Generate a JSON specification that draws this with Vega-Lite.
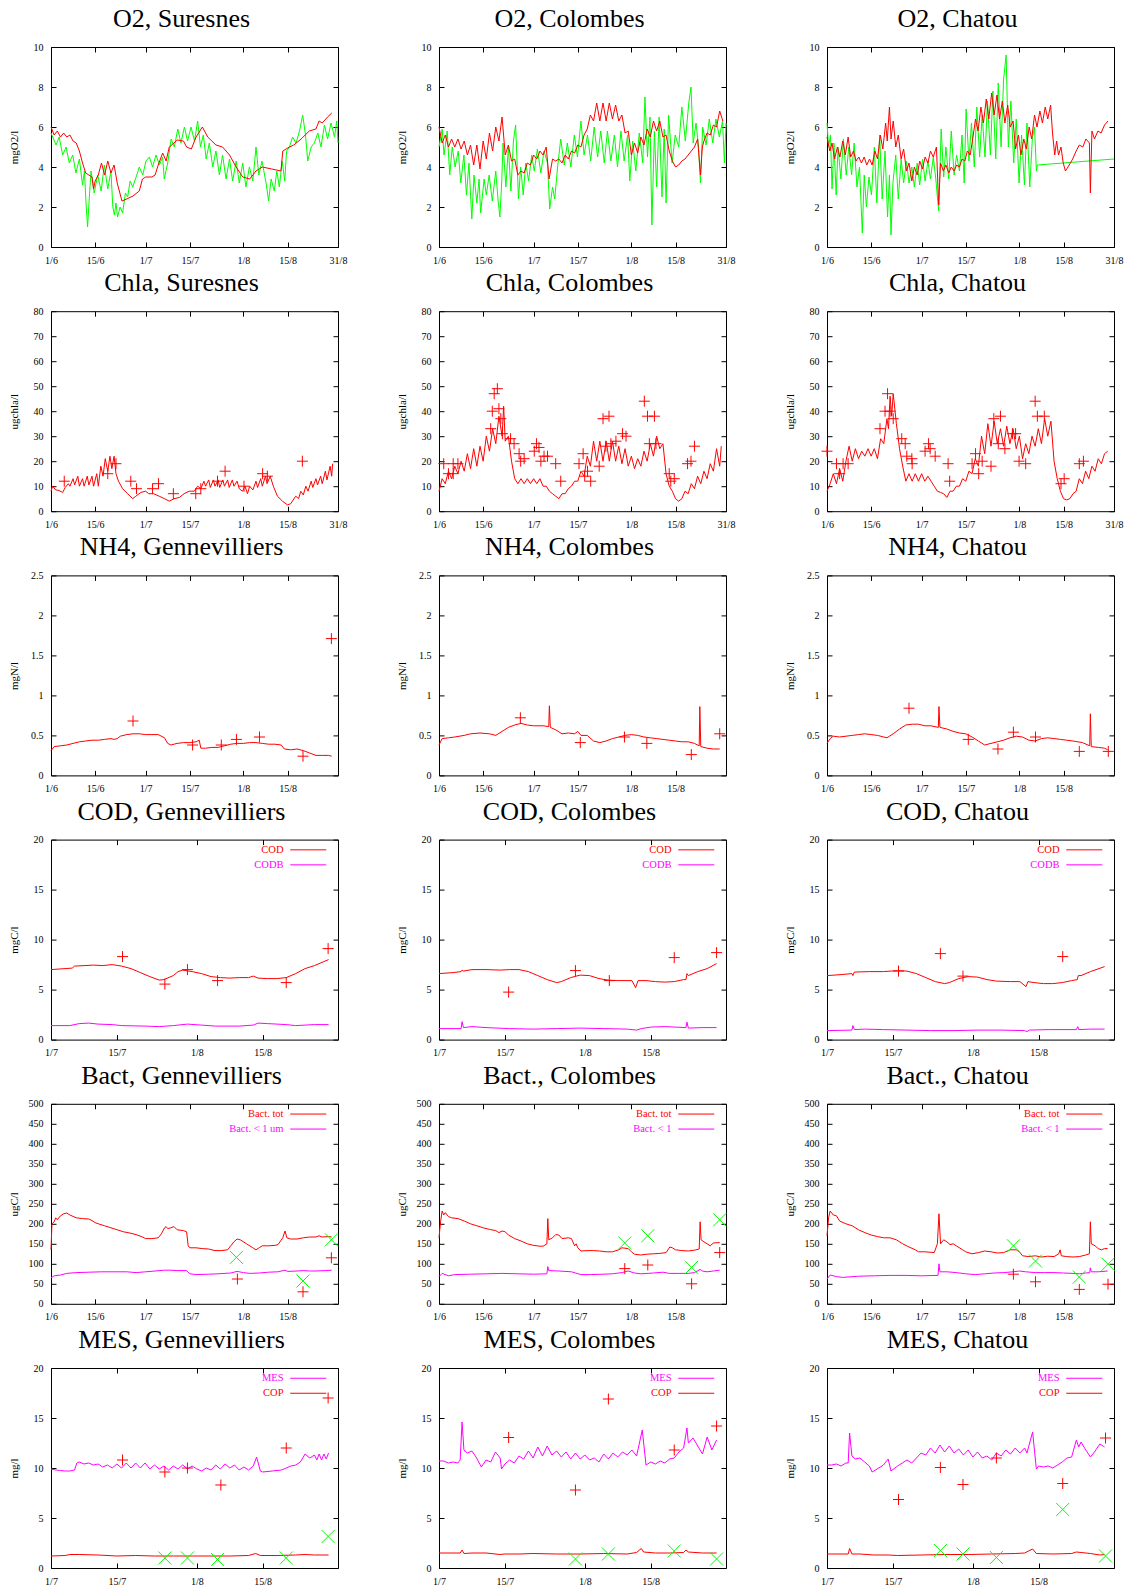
{
"$schema":"https://vega.github.io/schema/vega-lite/v6.json",
"background":"white",
"padding":{"left":7,"top":5,"right":5,"bottom":0},
"config":{
 "font":"Liberation Serif",
 "view":{"stroke":"#000000","strokeWidth":1},
 "axis":{"domain":false,"grid":false,"ticks":true,"tickColor":"#000000","tickSize":-5,"tickWidth":1,"labelFont":"Liberation Serif","labelFontSize":10,"labelColor":"#000000","labelPadding":10,"labelFlush":false,"labelOverlap":false,"titleFont":"Liberation Serif","titleFontSize":11,"titleFontWeight":"normal","titleColor":"#000000"},
 "axisBottom":{"labelPadding":13},
 "axisLeft":{"labelPadding":13,"titleX":-37,"titleY":100,"titleAngle":270,"titleAlign":"center","titleBaseline":"middle"},
 "title":{"font":"Liberation Serif","fontSize":26,"fontWeight":"normal","color":"#000000","anchor":"middle","frame":"group","dx":-13,"baseline":"alphabetic","offset":10},
 "legend":{"orient":"top-right","offset":5,"padding":0,"symbolType":"M-6,0H6M7.3,0H7.3","symbolSize":36,"symbolStrokeWidth":1.5,"labelFont":"Liberation Serif","labelFontSize":10.5,"labelAlign":"right","labelOffset":-30,"rowPadding":4,"labelLimit":0},
 "line":{"strokeWidth":1}
},
"columns":3,
"spacing":{"row":64.2,"column":101},
"bounds":"flush",
"resolve":{"scale":{"color":"independent"}},
"datasets":{
"o2s_g":[{"d":0,"v":5.7},{"d":1.6,"v":5.1},{"d":2.6,"v":5.5},{"d":3.7,"v":4.6},{"d":4.8,"v":5.0},{"d":5.8,"v":4.2},{"d":6.9,"v":4.6},{"d":7.9,"v":3.7},{"d":9,"v":4.4},{"d":10,"v":3.1},{"d":10.6,"v":3.8},{"d":11.1,"v":2.2},{"d":11.6,"v":1.0},{"d":12.2,"v":2.6},{"d":12.7,"v":3.8},{"d":13.7,"v":2.7},{"d":14.8,"v":3.6},{"d":15.9,"v":2.8},{"d":16.9,"v":4.1},{"d":18,"v":2.9},{"d":19,"v":3.8},{"d":19.6,"v":2.0},{"d":20.1,"v":1.6},{"d":20.6,"v":2.2},{"d":21.1,"v":1.5},{"d":21.9,"v":2.0},{"d":22.7,"v":1.7},{"d":23.6,"v":2.7},{"d":24.3,"v":2.5},{"d":25.1,"v":3.3},{"d":25.9,"v":3.0},{"d":27,"v":3.5},{"d":28,"v":4.0},{"d":29.1,"v":3.6},{"d":30.1,"v":4.3},{"d":31.2,"v":4.5},{"d":32.2,"v":4.0},{"d":33.3,"v":4.6},{"d":34.4,"v":4.1},{"d":35.4,"v":4.5},{"d":35.9,"v":3.4},{"d":37,"v":4.2},{"d":38.1,"v":5.4},{"d":39.1,"v":5.0},{"d":40.2,"v":5.9},{"d":41.2,"v":5.2},{"d":42.3,"v":6.0},{"d":43.3,"v":5.3},{"d":44.4,"v":6.0},{"d":45.5,"v":5.3},{"d":46.5,"v":6.3},{"d":47.4,"v":5.0},{"d":48.3,"v":5.6},{"d":49.2,"v":4.4},{"d":50.2,"v":5.2},{"d":51.3,"v":4.0},{"d":52.3,"v":4.8},{"d":53.4,"v":3.6},{"d":54.4,"v":4.6},{"d":55.5,"v":3.4},{"d":56.6,"v":4.4},{"d":57.6,"v":3.3},{"d":58.7,"v":4.3},{"d":59.7,"v":3.2},{"d":60.8,"v":4.2},{"d":61.8,"v":3.0},{"d":62.9,"v":4.0},{"d":64,"v":3.3},{"d":65,"v":5.0},{"d":65.9,"v":3.6},{"d":66.9,"v":4.3},{"d":68.2,"v":3.2},{"d":69,"v":2.3},{"d":69.8,"v":3.4},{"d":70.8,"v":2.8},{"d":71.6,"v":3.8},{"d":72.4,"v":3.0},{"d":73.3,"v":4.3},{"d":74.1,"v":3.3},{"d":74.7,"v":4.8},{"d":75.6,"v":5.0},{"d":76.6,"v":5.5},{"d":77.7,"v":5.2},{"d":78.8,"v":5.8},{"d":79.8,"v":6.6},{"d":80.7,"v":5.6},{"d":81.4,"v":4.3},{"d":82.5,"v":5.0},{"d":83.5,"v":5.2},{"d":84.6,"v":5.7},{"d":85.6,"v":5.0},{"d":86.7,"v":6.1},{"d":87.7,"v":5.4},{"d":88.8,"v":6.2},{"d":89.9,"v":5.5},{"d":90.6,"v":6.3},{"d":91,"v":5.2}],
"o2s_r":[{"d":0,"v":6.0},{"d":1,"v":5.6},{"d":2,"v":5.8},{"d":3,"v":5.5},{"d":4,"v":5.7},{"d":5,"v":5.5},{"d":6,"v":5.6},{"d":7,"v":5.3},{"d":8,"v":5.2},{"d":9,"v":4.8},{"d":10,"v":4.2},{"d":11,"v":3.7},{"d":12,"v":3.6},{"d":13,"v":3.5},{"d":13.5,"v":2.9},{"d":14,"v":3.3},{"d":15,"v":3.6},{"d":16,"v":4.2},{"d":17,"v":3.6},{"d":18,"v":4.3},{"d":19,"v":3.7},{"d":20,"v":4.1},{"d":21,"v":3.2},{"d":22,"v":2.6},{"d":22.5,"v":2.3},{"d":24,"v":2.4},{"d":26,"v":2.55},{"d":28,"v":2.8},{"d":29,"v":3.4},{"d":30,"v":3.5},{"d":32,"v":3.5},{"d":33,"v":3.6},{"d":34,"v":4.1},{"d":35.4,"v":4.7},{"d":36.5,"v":4.3},{"d":37.5,"v":5.0},{"d":39,"v":5.2},{"d":40,"v":5.35},{"d":42,"v":5.3},{"d":43,"v":5.0},{"d":44.5,"v":4.9},{"d":46,"v":5.5},{"d":48,"v":6.0},{"d":49.7,"v":5.5},{"d":51,"v":5.3},{"d":52.3,"v":5.1},{"d":54.4,"v":5.0},{"d":56.6,"v":4.6},{"d":58.7,"v":4.0},{"d":60.8,"v":3.5},{"d":63,"v":3.4},{"d":65,"v":3.8},{"d":67,"v":4.0},{"d":70,"v":3.9},{"d":72.9,"v":3.8},{"d":73.5,"v":4.8},{"d":75.6,"v":5.0},{"d":77,"v":5.1},{"d":79.3,"v":5.4},{"d":81.9,"v":5.8},{"d":84,"v":5.9},{"d":85,"v":6.3},{"d":86,"v":6.2},{"d":87.7,"v":6.5},{"d":89,"v":6.7}],
"o2c_g":[{"d":0,"v":5.0},{"d":1,"v":5.9},{"d":1.6,"v":4.6},{"d":2.6,"v":5.8},{"d":3.4,"v":3.6},{"d":4.2,"v":5.0},{"d":5.1,"v":4.0},{"d":6.1,"v":4.8},{"d":6.9,"v":3.2},{"d":7.9,"v":4.6},{"d":8.7,"v":2.6},{"d":9.5,"v":4.2},{"d":10.4,"v":1.4},{"d":11.1,"v":3.6},{"d":12,"v":2.2},{"d":12.7,"v":3.4},{"d":13.2,"v":1.7},{"d":14.3,"v":3.4},{"d":15,"v":2.6},{"d":15.9,"v":3.6},{"d":16.9,"v":2.3},{"d":18,"v":3.8},{"d":18.7,"v":2.4},{"d":19.3,"v":1.5},{"d":19.9,"v":3.3},{"d":20.3,"v":5.2},{"d":21.2,"v":3.0},{"d":22,"v":5.0},{"d":22.8,"v":2.8},{"d":23.6,"v":5.3},{"d":24.3,"v":6.1},{"d":25.2,"v":2.4},{"d":25.9,"v":4.0},{"d":26.7,"v":2.6},{"d":27.5,"v":4.2},{"d":28.4,"v":3.3},{"d":29.4,"v":4.6},{"d":30.2,"v":3.8},{"d":31.2,"v":4.9},{"d":32.3,"v":3.7},{"d":33.3,"v":4.8},{"d":34.4,"v":4.2},{"d":35.1,"v":1.9},{"d":36,"v":3.0},{"d":36.7,"v":2.4},{"d":37.6,"v":4.0},{"d":38.6,"v":5.4},{"d":39.7,"v":4.1},{"d":40.7,"v":5.2},{"d":41.8,"v":4.0},{"d":42.9,"v":5.6},{"d":43.9,"v":4.5},{"d":45,"v":6.3},{"d":46,"v":4.6},{"d":47.1,"v":5.6},{"d":48.1,"v":4.3},{"d":49.2,"v":6.0},{"d":50.3,"v":4.5},{"d":51.3,"v":5.8},{"d":52.4,"v":4.2},{"d":53.4,"v":5.8},{"d":54.5,"v":4.3},{"d":55.6,"v":5.6},{"d":56.6,"v":4.0},{"d":57.7,"v":5.8},{"d":58.7,"v":4.3},{"d":59.8,"v":5.6},{"d":60.5,"v":3.3},{"d":61.4,"v":5.3},{"d":62.4,"v":3.8},{"d":63.5,"v":5.7},{"d":64.6,"v":4.2},{"d":65.3,"v":7.5},{"d":66.1,"v":4.5},{"d":66.9,"v":6.5},{"d":67.5,"v":1.1},{"d":68.3,"v":5.8},{"d":69,"v":3.0},{"d":69.8,"v":6.5},{"d":70.7,"v":2.5},{"d":71.4,"v":5.9},{"d":72,"v":2.2},{"d":72.8,"v":6.6},{"d":73.9,"v":4.2},{"d":74.9,"v":5.6},{"d":76,"v":5.0},{"d":77,"v":7.0},{"d":78.1,"v":5.3},{"d":79.2,"v":7.2},{"d":79.9,"v":8.0},{"d":80.6,"v":5.2},{"d":81.5,"v":6.2},{"d":82.3,"v":5.0},{"d":82.9,"v":3.2},{"d":83.6,"v":6.0},{"d":84.7,"v":5.1},{"d":85.7,"v":6.4},{"d":86.8,"v":5.2},{"d":87.8,"v":6.4},{"d":88.9,"v":5.5},{"d":89.9,"v":6.3},{"d":90.5,"v":4.2},{"d":91,"v":6.2}],
"o2c_r":[{"d":0,"v":6.0},{"d":1,"v":5.2},{"d":2,"v":5.6},{"d":3,"v":5.0},{"d":4,"v":5.4},{"d":5,"v":5.0},{"d":6,"v":5.4},{"d":7,"v":4.9},{"d":8,"v":5.3},{"d":9,"v":4.6},{"d":10,"v":5.1},{"d":11,"v":4.1},{"d":12,"v":5.1},{"d":13,"v":3.9},{"d":14,"v":5.3},{"d":15,"v":4.4},{"d":16,"v":5.7},{"d":17,"v":4.8},{"d":18,"v":6.0},{"d":19,"v":5.3},{"d":20,"v":6.5},{"d":21,"v":4.6},{"d":22,"v":5.1},{"d":23,"v":4.3},{"d":24,"v":4.4},{"d":25,"v":3.6},{"d":26,"v":3.8},{"d":27,"v":3.7},{"d":28,"v":4.2},{"d":29,"v":4.1},{"d":30,"v":4.6},{"d":31,"v":4.4},{"d":32,"v":4.8},{"d":33,"v":4.6},{"d":34,"v":5.0},{"d":34.9,"v":3.4},{"d":36,"v":4.4},{"d":37,"v":4.3},{"d":38,"v":4.4},{"d":39,"v":4.2},{"d":40,"v":4.6},{"d":41,"v":4.4},{"d":42,"v":4.8},{"d":43,"v":4.7},{"d":44,"v":5.1},{"d":45,"v":5.0},{"d":46,"v":5.6},{"d":47,"v":5.9},{"d":48,"v":6.6},{"d":49,"v":6.3},{"d":50,"v":7.2},{"d":51,"v":6.3},{"d":52,"v":7.2},{"d":53,"v":6.3},{"d":54,"v":7.2},{"d":55,"v":6.4},{"d":56,"v":7.1},{"d":57,"v":6.3},{"d":58,"v":6.6},{"d":59,"v":5.7},{"d":60,"v":5.8},{"d":61,"v":4.6},{"d":62,"v":5.2},{"d":63,"v":4.7},{"d":64,"v":5.5},{"d":65,"v":5.1},{"d":66,"v":5.9},{"d":67,"v":5.5},{"d":68,"v":6.3},{"d":69,"v":5.8},{"d":70,"v":6.3},{"d":71,"v":5.5},{"d":72,"v":5.6},{"d":73,"v":4.8},{"d":74,"v":4.3},{"d":75,"v":4.0},{"d":76,"v":4.1},{"d":77,"v":4.3},{"d":78,"v":4.4},{"d":79,"v":4.6},{"d":80,"v":4.8},{"d":81,"v":5.0},{"d":82,"v":5.4},{"d":82.9,"v":3.6},{"d":83.5,"v":5.0},{"d":84,"v":5.3},{"d":85,"v":5.7},{"d":86,"v":5.6},{"d":87,"v":6.1},{"d":88,"v":6.0},{"d":89,"v":6.8},{"d":90,"v":6.3}],
"o2h_g":[{"d":0,"v":6.2},{"d":0.5,"v":5.0},{"d":1.1,"v":5.6},{"d":1.6,"v":2.9},{"d":2.2,"v":5.2},{"d":2.9,"v":2.6},{"d":3.5,"v":5.0},{"d":4.4,"v":3.4},{"d":5.2,"v":5.4},{"d":6.1,"v":3.6},{"d":6.9,"v":5.0},{"d":7.8,"v":3.6},{"d":8.6,"v":5.2},{"d":9.5,"v":3.0},{"d":10.3,"v":4.0},{"d":11.2,"v":0.7},{"d":11.8,"v":3.6},{"d":12.5,"v":2.0},{"d":13.3,"v":3.5},{"d":14.1,"v":2.6},{"d":15,"v":5.0},{"d":15.8,"v":2.2},{"d":16.7,"v":5.6},{"d":17.5,"v":2.4},{"d":18.4,"v":4.8},{"d":19.2,"v":1.5},{"d":19.8,"v":3.6},{"d":20.3,"v":0.6},{"d":20.9,"v":3.2},{"d":21.8,"v":4.6},{"d":22.6,"v":2.4},{"d":23.5,"v":4.4},{"d":24.3,"v":3.2},{"d":25.2,"v":4.3},{"d":26,"v":3.2},{"d":26.9,"v":4.0},{"d":27.7,"v":3.0},{"d":28.6,"v":4.2},{"d":29.4,"v":3.1},{"d":30.3,"v":4.4},{"d":31.1,"v":3.3},{"d":32,"v":4.3},{"d":32.8,"v":3.4},{"d":33.7,"v":4.5},{"d":34.5,"v":3.4},{"d":35.4,"v":1.8},{"d":36.2,"v":5.9},{"d":37,"v":3.5},{"d":37.7,"v":5.0},{"d":38.6,"v":3.4},{"d":39.4,"v":5.8},{"d":40.3,"v":3.6},{"d":41.1,"v":4.6},{"d":42,"v":3.8},{"d":42.8,"v":5.6},{"d":43.5,"v":3.2},{"d":44.1,"v":6.9},{"d":45,"v":4.3},{"d":45.8,"v":6.2},{"d":46.7,"v":4.0},{"d":47.5,"v":7.0},{"d":48.4,"v":4.5},{"d":49.2,"v":6.6},{"d":50.1,"v":4.5},{"d":50.9,"v":7.3},{"d":51.8,"v":4.6},{"d":52.6,"v":7.8},{"d":53.5,"v":4.4},{"d":54.3,"v":8.2},{"d":55.2,"v":5.0},{"d":56,"v":8.4},{"d":56.8,"v":9.6},{"d":57.5,"v":5.0},{"d":58.3,"v":7.3},{"d":59.2,"v":4.2},{"d":60,"v":6.4},{"d":60.9,"v":3.2},{"d":61.7,"v":5.6},{"d":62.6,"v":3.1},{"d":63.4,"v":6.2},{"d":64.3,"v":3.0},{"d":65.1,"v":5.4},{"d":65.8,"v":6.0},{"d":66.4,"v":3.8},{"d":66.7,"v":4.1},{"d":91,"v":4.4}],
"o2h_r":[{"d":0,"v":5.5},{"d":0.9,"v":4.8},{"d":1.6,"v":5.2},{"d":2.4,"v":4.4},{"d":3.3,"v":5.0},{"d":4.1,"v":4.5},{"d":5,"v":5.3},{"d":5.8,"v":4.6},{"d":6.7,"v":5.5},{"d":7.5,"v":4.5},{"d":8.4,"v":4.8},{"d":9.2,"v":4.3},{"d":10.1,"v":4.5},{"d":10.9,"v":4.2},{"d":11.8,"v":4.5},{"d":12.6,"v":4.1},{"d":13.5,"v":4.4},{"d":14.3,"v":4.1},{"d":15.2,"v":4.8},{"d":16,"v":4.4},{"d":16.9,"v":5.6},{"d":17.7,"v":4.9},{"d":18.6,"v":6.2},{"d":19.1,"v":5.3},{"d":19.8,"v":7.0},{"d":20.3,"v":5.4},{"d":21,"v":6.3},{"d":21.8,"v":5.0},{"d":22.6,"v":5.6},{"d":23.5,"v":4.4},{"d":24.3,"v":4.9},{"d":25.2,"v":3.8},{"d":26,"v":4.2},{"d":26.9,"v":3.3},{"d":27.7,"v":4.0},{"d":28.6,"v":3.6},{"d":29.4,"v":4.3},{"d":30.3,"v":3.9},{"d":31.1,"v":4.5},{"d":32,"v":4.2},{"d":32.8,"v":4.8},{"d":33.7,"v":4.5},{"d":34.7,"v":5.0},{"d":35.4,"v":2.1},{"d":36,"v":4.2},{"d":36.9,"v":3.8},{"d":37.7,"v":4.1},{"d":38.6,"v":3.7},{"d":39.4,"v":4.0},{"d":40.3,"v":3.8},{"d":41.1,"v":4.1},{"d":42,"v":4.0},{"d":42.8,"v":4.4},{"d":43.7,"v":4.3},{"d":44.5,"v":4.8},{"d":45.4,"v":4.6},{"d":46.2,"v":5.4},{"d":47.1,"v":6.4},{"d":47.9,"v":5.8},{"d":48.8,"v":7.0},{"d":49.6,"v":6.2},{"d":50.5,"v":7.4},{"d":51.3,"v":6.4},{"d":52.2,"v":7.7},{"d":53,"v":6.6},{"d":53.9,"v":7.6},{"d":54.7,"v":6.4},{"d":55.6,"v":7.3},{"d":56.4,"v":6.2},{"d":57.3,"v":7.1},{"d":58.1,"v":6.0},{"d":59,"v":6.3},{"d":59.8,"v":4.9},{"d":60.7,"v":5.6},{"d":61.5,"v":4.6},{"d":62.4,"v":5.4},{"d":63.2,"v":4.9},{"d":64.1,"v":6.0},{"d":64.9,"v":5.4},{"d":65.8,"v":6.6},{"d":66.6,"v":6.0},{"d":67.5,"v":6.8},{"d":68.3,"v":6.2},{"d":69.2,"v":7.0},{"d":70,"v":6.4},{"d":70.9,"v":7.1},{"d":71.5,"v":5.7},{"d":72.2,"v":4.6},{"d":72.8,"v":5.3},{"d":73.4,"v":4.6},{"d":74.2,"v":5.0},{"d":74.9,"v":4.2},{"d":75.6,"v":3.8},{"d":76.8,"v":4.1},{"d":77.9,"v":4.4},{"d":79,"v":4.8},{"d":80,"v":5.1},{"d":81.1,"v":5.0},{"d":82.1,"v":5.4},{"d":83.2,"v":5.2},{"d":83.5,"v":2.7},{"d":84,"v":5.8},{"d":84.8,"v":5.4},{"d":85.9,"v":5.8},{"d":86.9,"v":5.7},{"d":88,"v":6.1},{"d":89.1,"v":6.3}],
"chs":[{"d":0,"v":8},{"d":0.5,"v":10},{"d":1.5,"v":8.5},{"d":2.5,"v":8.3},{"d":3.7,"v":7.5},{"d":4.5,"v":9.5},{"d":5.5,"v":11},{"d":6,"v":10},{"d":7,"v":13},{"d":7.5,"v":10.5},{"d":8.5,"v":14},{"d":9,"v":10},{"d":10,"v":13},{"d":10.5,"v":10},{"d":11.5,"v":14},{"d":12,"v":10.5},{"d":13,"v":14},{"d":13.5,"v":10},{"d":14.5,"v":15},{"d":15,"v":10},{"d":15.8,"v":18},{"d":16.5,"v":14},{"d":17.2,"v":21},{"d":18,"v":16},{"d":18.7,"v":22},{"d":19.3,"v":17},{"d":20,"v":22},{"d":20.6,"v":15},{"d":21.4,"v":12},{"d":22.7,"v":9},{"d":24.3,"v":7},{"d":25.9,"v":5},{"d":26.9,"v":6},{"d":28.5,"v":7.5},{"d":30,"v":8},{"d":31,"v":7},{"d":32.5,"v":7},{"d":34.3,"v":6},{"d":36,"v":5},{"d":37.5,"v":4},{"d":39,"v":5},{"d":40.7,"v":5.5},{"d":42.2,"v":7},{"d":43.8,"v":8},{"d":45.4,"v":8},{"d":46.5,"v":10},{"d":47.5,"v":9},{"d":48.5,"v":12},{"d":49,"v":10},{"d":50,"v":12.5},{"d":50.5,"v":9.5},{"d":51.5,"v":12.5},{"d":52,"v":10},{"d":53,"v":12.5},{"d":53.5,"v":9.5},{"d":54.5,"v":12.5},{"d":55,"v":10},{"d":56,"v":12.5},{"d":56.5,"v":9.5},{"d":57.5,"v":12.5},{"d":58,"v":10},{"d":59,"v":12},{"d":59.7,"v":9},{"d":60.7,"v":8},{"d":61.5,"v":10},{"d":62.3,"v":7},{"d":63,"v":10},{"d":64,"v":8.5},{"d":65,"v":12},{"d":65.5,"v":9.5},{"d":66.5,"v":13},{"d":67,"v":10},{"d":68,"v":14},{"d":68.5,"v":11},{"d":69.5,"v":14},{"d":70.5,"v":10},{"d":71.8,"v":6},{"d":73.4,"v":4},{"d":75,"v":2.5},{"d":76,"v":3},{"d":77.6,"v":6},{"d":78.5,"v":5},{"d":79.2,"v":8},{"d":80,"v":6.5},{"d":80.8,"v":10},{"d":81.5,"v":8},{"d":82.5,"v":12},{"d":83,"v":9.5},{"d":84,"v":13},{"d":84.5,"v":10.5},{"d":85.5,"v":14},{"d":86,"v":11},{"d":87,"v":16},{"d":87.5,"v":12.5},{"d":88.5,"v":18},{"d":89,"v":14},{"d":89.3,"v":19}],
"chs_p":[{"d":4.2,"v":12},{"d":18,"v":15},{"d":20.6,"v":19},{"d":25.3,"v":12},{"d":27.1,"v":9},{"d":32.2,"v":9},{"d":34.1,"v":11},{"d":38.8,"v":7},{"d":45.9,"v":7},{"d":47.5,"v":9},{"d":52.8,"v":12},{"d":55.2,"v":16},{"d":61.2,"v":10},{"d":67.1,"v":15},{"d":68.6,"v":14},{"d":79.7,"v":20}],
"chc":[{"d":0,"v":8},{"d":1,"v":13},{"d":2,"v":11},{"d":3,"v":16},{"d":4,"v":13},{"d":5,"v":18},{"d":6,"v":15},{"d":7,"v":20},{"d":8,"v":16},{"d":9,"v":23},{"d":10,"v":17},{"d":11,"v":25},{"d":12,"v":18},{"d":13,"v":26},{"d":14,"v":20},{"d":15,"v":30},{"d":16,"v":24},{"d":17,"v":33},{"d":18,"v":27},{"d":19,"v":38},{"d":20,"v":30},{"d":20.5,"v":42},{"d":21,"v":28},{"d":22,"v":30},{"d":23,"v":20},{"d":24,"v":13},{"d":25,"v":11},{"d":26,"v":13},{"d":27,"v":11},{"d":28,"v":13},{"d":29,"v":11},{"d":30,"v":13},{"d":31,"v":11},{"d":32,"v":13},{"d":33,"v":10},{"d":34,"v":10},{"d":35,"v":8},{"d":36,"v":7},{"d":37,"v":6},{"d":38,"v":5},{"d":39,"v":7},{"d":40,"v":7},{"d":41,"v":9},{"d":42,"v":10},{"d":43,"v":12},{"d":44,"v":12},{"d":45,"v":16},{"d":46,"v":14},{"d":47,"v":22},{"d":48,"v":18},{"d":49,"v":28},{"d":50,"v":20},{"d":51,"v":28},{"d":52,"v":20},{"d":53,"v":28},{"d":54,"v":20},{"d":55,"v":28},{"d":56,"v":20},{"d":57,"v":26},{"d":58,"v":19},{"d":59,"v":25},{"d":60,"v":18},{"d":61,"v":22},{"d":62,"v":17},{"d":63,"v":21},{"d":64,"v":18},{"d":65,"v":24},{"d":66,"v":20},{"d":67,"v":27},{"d":68,"v":22},{"d":69,"v":30},{"d":70,"v":25},{"d":71,"v":27},{"d":72,"v":15},{"d":73,"v":10},{"d":74,"v":8},{"d":75,"v":5},{"d":76,"v":4},{"d":77,"v":5},{"d":78,"v":8},{"d":79,"v":7},{"d":80,"v":11},{"d":81,"v":9},{"d":82,"v":14},{"d":83,"v":11},{"d":84,"v":16},{"d":85,"v":13},{"d":86,"v":19},{"d":87,"v":16},{"d":88,"v":25},{"d":89,"v":18},{"d":89.5,"v":26}],
"chc_p":[{"d":1.5,"v":19},{"d":3,"v":15},{"d":4.5,"v":15},{"d":4.5,"v":19},{"d":6,"v":19},{"d":16.4,"v":33},{"d":16.9,"v":40},{"d":17.5,"v":47},{"d":18.5,"v":49},{"d":19,"v":41},{"d":19.6,"v":37},{"d":20.1,"v":31},{"d":22.7,"v":29},{"d":23.8,"v":27},{"d":25.4,"v":23},{"d":25.9,"v":20},{"d":27,"v":21},{"d":30.2,"v":24},{"d":30.9,"v":27},{"d":31.7,"v":25.5},{"d":32.3,"v":20},{"d":33.3,"v":22},{"d":34.4,"v":22},{"d":37,"v":19},{"d":38.6,"v":12},{"d":44.4,"v":19},{"d":45.7,"v":23},{"d":46.2,"v":14},{"d":47.1,"v":16},{"d":48.1,"v":12},{"d":50.8,"v":18},{"d":52,"v":37},{"d":53.9,"v":38},{"d":52.9,"v":26},{"d":54.5,"v":27},{"d":56.1,"v":28},{"d":58.2,"v":31},{"d":59.3,"v":30},{"d":65.1,"v":44},{"d":66.1,"v":38},{"d":68.3,"v":38},{"d":66.7,"v":27},{"d":68.8,"v":27},{"d":73,"v":15},{"d":73.5,"v":12},{"d":74.6,"v":13},{"d":78.8,"v":19},{"d":79.9,"v":20},{"d":81,"v":26}],
"chh":[{"d":0,"v":8},{"d":1,"v":11},{"d":2,"v":15},{"d":3,"v":11},{"d":4,"v":17},{"d":5,"v":12},{"d":6,"v":20},{"d":7,"v":26},{"d":8,"v":20},{"d":9,"v":25},{"d":10,"v":21},{"d":11,"v":24},{"d":12,"v":22},{"d":13,"v":25},{"d":14,"v":22},{"d":15,"v":25},{"d":16,"v":21},{"d":17,"v":29},{"d":18,"v":27},{"d":19,"v":37},{"d":19.5,"v":33},{"d":20,"v":46},{"d":20.5,"v":38},{"d":21,"v":47},{"d":22,"v":35},{"d":23,"v":25},{"d":24,"v":18},{"d":25,"v":12},{"d":26,"v":15},{"d":27,"v":12},{"d":28,"v":15},{"d":29,"v":12},{"d":30,"v":15},{"d":31,"v":12},{"d":32,"v":14},{"d":33,"v":12},{"d":34,"v":10},{"d":35,"v":8},{"d":36,"v":7.5},{"d":37,"v":7},{"d":38,"v":5.5},{"d":39,"v":8},{"d":40,"v":8},{"d":41,"v":10},{"d":42,"v":10},{"d":43,"v":13},{"d":44,"v":12},{"d":45,"v":16},{"d":46,"v":15},{"d":47,"v":21},{"d":48,"v":18},{"d":49,"v":30},{"d":50,"v":23},{"d":51,"v":35},{"d":52,"v":26},{"d":53,"v":36},{"d":54,"v":27},{"d":55,"v":33},{"d":56,"v":26},{"d":57,"v":34},{"d":58,"v":27},{"d":59,"v":33},{"d":60,"v":25},{"d":61,"v":30},{"d":62,"v":21},{"d":63,"v":27},{"d":64,"v":23},{"d":65,"v":30},{"d":66,"v":26},{"d":67,"v":33},{"d":68,"v":27},{"d":69,"v":37},{"d":70,"v":30},{"d":71,"v":36},{"d":72,"v":20},{"d":73,"v":13},{"d":74,"v":8},{"d":75,"v":5},{"d":76,"v":4.5},{"d":77,"v":5},{"d":78,"v":7},{"d":79,"v":8},{"d":80,"v":13},{"d":81,"v":11},{"d":82,"v":16},{"d":83,"v":13},{"d":84,"v":18},{"d":85,"v":16},{"d":86,"v":21},{"d":87,"v":19},{"d":88,"v":23},{"d":89,"v":24}],
"chh_p":[{"d":0,"v":24},{"d":3,"v":19},{"d":4,"v":15},{"d":5.1,"v":19},{"d":6.7,"v":19},{"d":16.8,"v":33},{"d":18.4,"v":40},{"d":19.2,"v":47},{"d":20,"v":40},{"d":21,"v":37},{"d":23.7,"v":29},{"d":24.8,"v":27},{"d":25.3,"v":22},{"d":26.9,"v":21},{"d":27,"v":19},{"d":31.1,"v":24},{"d":32.2,"v":27},{"d":32.7,"v":25},{"d":34.3,"v":22},{"d":38.4,"v":19},{"d":38.9,"v":12},{"d":46,"v":19},{"d":47.1,"v":23},{"d":48.1,"v":15},{"d":49.2,"v":20},{"d":52,"v":18},{"d":52.9,"v":37},{"d":55,"v":38},{"d":54.3,"v":27},{"d":56.4,"v":25},{"d":58.8,"v":31},{"d":59.8,"v":31},{"d":60.9,"v":20},{"d":63,"v":19},{"d":66,"v":44},{"d":66.7,"v":38},{"d":68.9,"v":38},{"d":74.2,"v":11},{"d":75.2,"v":13},{"d":80,"v":19},{"d":81.3,"v":20}],
"nhg":[{"d":0,"v":0.31},{"d":1,"v":0.36},{"d":3,"v":0.37},{"d":5,"v":0.38},{"d":7,"v":0.40},{"d":9,"v":0.42},{"d":11,"v":0.43},{"d":13,"v":0.44},{"d":15,"v":0.44},{"d":17,"v":0.45},{"d":19,"v":0.46},{"d":20,"v":0.45},{"d":21,"v":0.46},{"d":22,"v":0.49},{"d":24,"v":0.51},{"d":26,"v":0.52},{"d":28,"v":0.52},{"d":30,"v":0.51},{"d":32,"v":0.51},{"d":34,"v":0.51},{"d":36,"v":0.47},{"d":37,"v":0.40},{"d":38,"v":0.38},{"d":40,"v":0.40},{"d":42,"v":0.41},{"d":44,"v":0.41},{"d":46,"v":0.42},{"d":47,"v":0.44},{"d":47.5,"v":0.34},{"d":49,"v":0.34},{"d":51,"v":0.35},{"d":53,"v":0.35},{"d":55,"v":0.37},{"d":57,"v":0.39},{"d":59,"v":0.40},{"d":61,"v":0.40},{"d":63,"v":0.41},{"d":65,"v":0.41},{"d":67,"v":0.40},{"d":69,"v":0.39},{"d":71,"v":0.39},{"d":73,"v":0.38},{"d":74,"v":0.33},{"d":76,"v":0.32},{"d":78,"v":0.33},{"d":80,"v":0.31},{"d":82,"v":0.28},{"d":84,"v":0.25},{"d":86,"v":0.25},{"d":88,"v":0.25},{"d":89,"v":0.24}],
"nhg_p":[{"d":26,"v":0.68},{"d":44.9,"v":0.38},{"d":54,"v":0.38},{"d":58.8,"v":0.45},{"d":66.1,"v":0.48},{"d":79.9,"v":0.24},{"d":88.9,"v":1.71}],
"nhc":[{"d":0,"v":0.38},{"d":1,"v":0.46},{"d":3,"v":0.47},{"d":5,"v":0.48},{"d":8,"v":0.50},{"d":10,"v":0.52},{"d":13,"v":0.53},{"d":16,"v":0.52},{"d":18,"v":0.50},{"d":20,"v":0.55},{"d":22,"v":0.60},{"d":24,"v":0.63},{"d":26,"v":0.65},{"d":28,"v":0.63},{"d":30,"v":0.62},{"d":33,"v":0.62},{"d":34.8,"v":0.61},{"d":35,"v":0.87},{"d":35.3,"v":0.60},{"d":37,"v":0.57},{"d":39,"v":0.52},{"d":41,"v":0.53},{"d":43,"v":0.52},{"d":44,"v":0.55},{"d":45,"v":0.50},{"d":47,"v":0.50},{"d":49,"v":0.43},{"d":51,"v":0.41},{"d":53,"v":0.43},{"d":55,"v":0.46},{"d":57,"v":0.48},{"d":59,"v":0.50},{"d":61,"v":0.51},{"d":63,"v":0.50},{"d":65,"v":0.48},{"d":67,"v":0.47},{"d":69,"v":0.46},{"d":71,"v":0.45},{"d":73,"v":0.44},{"d":75,"v":0.43},{"d":77,"v":0.42},{"d":79,"v":0.42},{"d":81,"v":0.40},{"d":82.5,"v":0.37},{"d":82.7,"v":0.86},{"d":83,"v":0.36},{"d":85,"v":0.34},{"d":87,"v":0.33},{"d":89,"v":0.33}],
"nhc_p":[{"d":25.8,"v":0.72},{"d":44.8,"v":0.41},{"d":58.8,"v":0.48},{"d":65.9,"v":0.40},{"d":80,"v":0.26},{"d":89,"v":0.52}],
"nhh":[{"d":0,"v":0.40},{"d":1,"v":0.46},{"d":2,"v":0.49},{"d":4,"v":0.48},{"d":6,"v":0.49},{"d":8,"v":0.50},{"d":10,"v":0.51},{"d":12,"v":0.52},{"d":14,"v":0.51},{"d":16,"v":0.50},{"d":18,"v":0.48},{"d":19,"v":0.47},{"d":21,"v":0.52},{"d":23,"v":0.58},{"d":25,"v":0.63},{"d":27,"v":0.64},{"d":29,"v":0.64},{"d":31,"v":0.62},{"d":33,"v":0.62},{"d":35.3,"v":0.60},{"d":35.5,"v":0.86},{"d":35.8,"v":0.60},{"d":38,"v":0.58},{"d":40,"v":0.55},{"d":42,"v":0.53},{"d":44,"v":0.52},{"d":46,"v":0.48},{"d":48,"v":0.43},{"d":50,"v":0.38},{"d":52,"v":0.40},{"d":54,"v":0.42},{"d":56,"v":0.44},{"d":58,"v":0.47},{"d":60,"v":0.49},{"d":62,"v":0.48},{"d":64,"v":0.44},{"d":66,"v":0.43},{"d":68,"v":0.46},{"d":70,"v":0.47},{"d":72,"v":0.46},{"d":74,"v":0.45},{"d":76,"v":0.44},{"d":78,"v":0.43},{"d":81,"v":0.41},{"d":83.3,"v":0.37},{"d":83.5,"v":0.77},{"d":83.8,"v":0.36},{"d":86,"v":0.35},{"d":88,"v":0.34},{"d":89,"v":0.32}],
"nhh_p":[{"d":26,"v":0.84},{"d":44.8,"v":0.45},{"d":54.2,"v":0.33},{"d":59.1,"v":0.54},{"d":66.1,"v":0.48},{"d":80,"v":0.30},{"d":89.2,"v":0.30}],
"cdg":[{"d":30,"v":7.0},{"d":33,"v":7.1},{"d":34.5,"v":7.15},{"d":35,"v":7.35},{"d":37,"v":7.4},{"d":39,"v":7.45},{"d":41,"v":7.4},{"d":43,"v":7.5},{"d":45,"v":7.35},{"d":47,"v":7.1},{"d":49,"v":6.7},{"d":51,"v":6.3},{"d":53,"v":5.95},{"d":54,"v":6.0},{"d":56,"v":6.4},{"d":57,"v":6.8},{"d":58,"v":6.95},{"d":60,"v":6.8},{"d":62,"v":6.6},{"d":64,"v":6.3},{"d":66,"v":6.2},{"d":68,"v":6.15},{"d":70,"v":6.2},{"d":72,"v":6.2},{"d":73,"v":6.35},{"d":74,"v":6.15},{"d":76,"v":6.1},{"d":78,"v":6.1},{"d":80,"v":6.2},{"d":82,"v":6.6},{"d":84,"v":7.1},{"d":86,"v":7.4},{"d":88,"v":7.8},{"d":89,"v":8.0}],
"cdg_b":[{"d":30,"v":1.4},{"d":34,"v":1.4},{"d":36,"v":1.6},{"d":38,"v":1.65},{"d":40,"v":1.55},{"d":43,"v":1.5},{"d":45,"v":1.4},{"d":50,"v":1.35},{"d":53,"v":1.3},{"d":56,"v":1.4},{"d":59,"v":1.55},{"d":62,"v":1.45},{"d":65,"v":1.35},{"d":70,"v":1.35},{"d":73,"v":1.45},{"d":74,"v":1.65},{"d":76,"v":1.6},{"d":78,"v":1.55},{"d":80,"v":1.5},{"d":82,"v":1.4},{"d":84,"v":1.45},{"d":86,"v":1.5},{"d":89,"v":1.5}],
"cdg_p":[{"d":45.2,"v":8.3},{"d":54.2,"v":5.55},{"d":59,"v":7.0},{"d":65.4,"v":5.9},{"d":80,"v":5.7},{"d":88.9,"v":9.1}],
"cdc":[{"d":30,"v":6.6},{"d":33,"v":6.7},{"d":34.7,"v":6.8},{"d":34.9,"v":6.95},{"d":35.2,"v":6.85},{"d":37,"v":7.0},{"d":40,"v":7.0},{"d":43,"v":6.95},{"d":45,"v":7.0},{"d":47,"v":7.0},{"d":49,"v":6.8},{"d":51,"v":6.4},{"d":53,"v":6.0},{"d":55,"v":5.7},{"d":56,"v":5.8},{"d":58,"v":6.2},{"d":60,"v":6.45},{"d":62,"v":6.4},{"d":64,"v":6.1},{"d":66,"v":5.95},{"d":68,"v":5.9},{"d":71,"v":5.9},{"d":71.8,"v":5.2},{"d":72.3,"v":5.9},{"d":74,"v":5.9},{"d":76,"v":5.8},{"d":78,"v":5.75},{"d":80,"v":5.8},{"d":82,"v":6.0},{"d":82.5,"v":6.0},{"d":82.7,"v":6.6},{"d":83,"v":6.4},{"d":85,"v":6.8},{"d":87,"v":7.1},{"d":89,"v":7.6}],
"cdc_b":[{"d":30,"v":1.1},{"d":34.7,"v":1.1},{"d":34.9,"v":1.8},{"d":35.2,"v":1.2},{"d":37,"v":1.3},{"d":40,"v":1.2},{"d":45,"v":1.1},{"d":50,"v":1.05},{"d":55,"v":1.1},{"d":60,"v":1.15},{"d":65,"v":1.1},{"d":70,"v":1.05},{"d":72,"v":0.95},{"d":73,"v":1.1},{"d":75,"v":1.25},{"d":78,"v":1.3},{"d":82.5,"v":1.2},{"d":82.7,"v":1.75},{"d":83,"v":1.15},{"d":86,"v":1.2},{"d":89,"v":1.2}],
"cdc_p":[{"d":44.8,"v":4.75},{"d":59,"v":6.9},{"d":66.2,"v":5.9},{"d":80,"v":8.2},{"d":89,"v":8.7}],
"cdh":[{"d":30,"v":6.4},{"d":33,"v":6.5},{"d":35.3,"v":6.6},{"d":35.5,"v":6.4},{"d":35.8,"v":6.75},{"d":39,"v":6.8},{"d":42,"v":6.8},{"d":45,"v":6.9},{"d":47,"v":6.85},{"d":49,"v":6.6},{"d":51,"v":6.2},{"d":53,"v":5.8},{"d":55,"v":5.6},{"d":56,"v":5.7},{"d":58,"v":6.1},{"d":60,"v":6.3},{"d":62,"v":6.25},{"d":64,"v":6.0},{"d":66,"v":5.85},{"d":69,"v":5.8},{"d":71,"v":5.8},{"d":72.3,"v":5.3},{"d":72.7,"v":5.8},{"d":74,"v":5.7},{"d":76,"v":5.6},{"d":78,"v":5.6},{"d":80,"v":5.7},{"d":82,"v":5.9},{"d":83.2,"v":6.0},{"d":83.4,"v":6.4},{"d":84,"v":6.4},{"d":86,"v":6.8},{"d":89,"v":7.3}],
"cdh_b":[{"d":30,"v":0.9},{"d":35.3,"v":0.95},{"d":35.5,"v":1.4},{"d":35.8,"v":1.0},{"d":38,"v":1.05},{"d":42,"v":1.0},{"d":47,"v":0.95},{"d":52,"v":0.9},{"d":57,"v":0.9},{"d":62,"v":0.95},{"d":67,"v":0.95},{"d":72,"v":0.9},{"d":72.5,"v":0.8},{"d":73,"v":0.95},{"d":77,"v":1.0},{"d":83,"v":1.0},{"d":83.3,"v":1.3},{"d":83.5,"v":1.0},{"d":86,"v":1.05},{"d":89,"v":1.05}],
"cdh_p":[{"d":45.2,"v":6.85},{"d":54.1,"v":8.6},{"d":58.9,"v":6.35},{"d":80.1,"v":8.3}],
"bag":[{"d":0,"v":135},{"d":0.3,"v":200},{"d":1,"v":205},{"d":1.5,"v":215},{"d":2,"v":210},{"d":3,"v":220},{"d":4,"v":225},{"d":5,"v":227},{"d":6,"v":222},{"d":8,"v":215},{"d":10,"v":213},{"d":12,"v":212},{"d":13,"v":208},{"d":14,"v":203},{"d":15,"v":200},{"d":17,"v":195},{"d":19,"v":190},{"d":21,"v":185},{"d":23,"v":180},{"d":25,"v":177},{"d":27,"v":173},{"d":29,"v":167},{"d":30,"v":163},{"d":32,"v":163},{"d":34,"v":165},{"d":35,"v":175},{"d":36,"v":190},{"d":36.5,"v":193},{"d":37,"v":188},{"d":38,"v":190},{"d":39,"v":193},{"d":40,"v":185},{"d":42,"v":183},{"d":43,"v":180},{"d":43.5,"v":145},{"d":44,"v":140},{"d":46,"v":140},{"d":48,"v":138},{"d":50,"v":137},{"d":52,"v":133},{"d":54,"v":133},{"d":56,"v":135},{"d":57,"v":145},{"d":58,"v":155},{"d":59,"v":162},{"d":60,"v":160},{"d":62,"v":150},{"d":64,"v":140},{"d":65,"v":135},{"d":66,"v":140},{"d":67,"v":145},{"d":69,"v":145},{"d":71,"v":146},{"d":72,"v":148},{"d":73.5,"v":165},{"d":74.2,"v":182},{"d":74.8,"v":165},{"d":76,"v":162},{"d":78,"v":162},{"d":80,"v":165},{"d":82,"v":167},{"d":84,"v":167},{"d":85,"v":170},{"d":86,"v":167},{"d":88,"v":168},{"d":89,"v":167}],
"bag_s":[{"d":0,"v":65},{"d":1,"v":70},{"d":3,"v":72},{"d":5,"v":76},{"d":8,"v":78},{"d":12,"v":79},{"d":16,"v":80},{"d":20,"v":80},{"d":24,"v":80},{"d":27,"v":78},{"d":30,"v":80},{"d":33,"v":82},{"d":36,"v":84},{"d":38,"v":84},{"d":40,"v":83},{"d":43,"v":83},{"d":44,"v":75},{"d":46,"v":73},{"d":50,"v":74},{"d":53,"v":75},{"d":57,"v":77},{"d":59,"v":81},{"d":61,"v":78},{"d":63,"v":76},{"d":66,"v":77},{"d":69,"v":79},{"d":72,"v":80},{"d":74.2,"v":84},{"d":75,"v":81},{"d":78,"v":82},{"d":80,"v":83},{"d":82,"v":82},{"d":84,"v":82},{"d":87,"v":83},{"d":89,"v":84}],
"bag_p":[{"d":59.1,"v":62},{"d":79.9,"v":30},{"d":88.9,"v":115}],
"bag_x":[{"d":58.8,"v":116},{"d":79.9,"v":57},{"d":88.9,"v":160}],
"bac":[{"d":0,"v":165},{"d":0.5,"v":205},{"d":1,"v":232},{"d":1.5,"v":222},{"d":2,"v":228},{"d":3,"v":218},{"d":4,"v":215},{"d":6,"v":213},{"d":8,"v":207},{"d":10,"v":200},{"d":12,"v":195},{"d":14,"v":190},{"d":16,"v":186},{"d":18,"v":183},{"d":19,"v":178},{"d":20,"v":182},{"d":21,"v":180},{"d":22,"v":172},{"d":24,"v":163},{"d":26,"v":157},{"d":28,"v":150},{"d":30,"v":146},{"d":32,"v":144},{"d":33,"v":144},{"d":34.2,"v":150},{"d":34.5,"v":213},{"d":34.8,"v":160},{"d":36,"v":165},{"d":37,"v":173},{"d":38,"v":172},{"d":39,"v":163},{"d":41,"v":165},{"d":42,"v":163},{"d":43,"v":145},{"d":43.5,"v":150},{"d":44,"v":140},{"d":45,"v":132},{"d":47,"v":133},{"d":49,"v":133},{"d":51,"v":132},{"d":53,"v":130},{"d":55,"v":130},{"d":57,"v":135},{"d":58,"v":140},{"d":60,"v":138},{"d":61,"v":130},{"d":62,"v":124},{"d":64,"v":122},{"d":66,"v":124},{"d":68,"v":125},{"d":70,"v":126},{"d":72,"v":128},{"d":73.2,"v":142},{"d":74,"v":140},{"d":75,"v":135},{"d":77,"v":133},{"d":79,"v":132},{"d":81,"v":134},{"d":82.5,"v":137},{"d":82.8,"v":205},{"d":83.1,"v":160},{"d":84,"v":155},{"d":85,"v":150},{"d":86,"v":145},{"d":87,"v":152},{"d":89,"v":153}],
"bac_s":[{"d":0,"v":68},{"d":1,"v":76},{"d":3,"v":70},{"d":5,"v":73},{"d":10,"v":74},{"d":15,"v":75},{"d":20,"v":76},{"d":25,"v":75},{"d":30,"v":74},{"d":34.2,"v":75},{"d":34.5,"v":93},{"d":34.8,"v":83},{"d":38,"v":82},{"d":42,"v":80},{"d":45,"v":73},{"d":48,"v":73},{"d":52,"v":74},{"d":55,"v":75},{"d":58,"v":78},{"d":60,"v":82},{"d":62,"v":77},{"d":64,"v":75},{"d":68,"v":77},{"d":71,"v":79},{"d":73,"v":76},{"d":76,"v":76},{"d":79,"v":76},{"d":81,"v":78},{"d":82.8,"v":86},{"d":83.5,"v":82},{"d":85,"v":80},{"d":87,"v":82},{"d":89,"v":84}],
"bac_p":[{"d":58.9,"v":88},{"d":66.2,"v":97},{"d":80.1,"v":50},{"d":89,"v":128}],
"bac_x":[{"d":58.9,"v":152},{"d":66.2,"v":170},{"d":80.1,"v":91},{"d":89,"v":210}],
"bah":[{"d":0,"v":170},{"d":0.5,"v":215},{"d":1,"v":232},{"d":2,"v":222},{"d":3,"v":220},{"d":4,"v":207},{"d":6,"v":200},{"d":8,"v":195},{"d":10,"v":185},{"d":12,"v":178},{"d":14,"v":172},{"d":16,"v":168},{"d":18,"v":165},{"d":20,"v":165},{"d":22,"v":160},{"d":24,"v":150},{"d":26,"v":142},{"d":28,"v":135},{"d":29,"v":130},{"d":31,"v":130},{"d":34,"v":128},{"d":35,"v":150},{"d":35.5,"v":225},{"d":36,"v":150},{"d":37,"v":160},{"d":38,"v":155},{"d":39,"v":148},{"d":40,"v":150},{"d":41,"v":145},{"d":43,"v":135},{"d":44,"v":130},{"d":46,"v":125},{"d":48,"v":128},{"d":50,"v":132},{"d":52,"v":130},{"d":54,"v":127},{"d":56,"v":128},{"d":58,"v":135},{"d":60,"v":135},{"d":61,"v":130},{"d":62,"v":120},{"d":64,"v":118},{"d":66,"v":120},{"d":68,"v":117},{"d":70,"v":119},{"d":72,"v":118},{"d":73.5,"v":125},{"d":73.9,"v":135},{"d":74.3,"v":120},{"d":76,"v":118},{"d":78,"v":117},{"d":80,"v":118},{"d":82,"v":122},{"d":83.2,"v":125},{"d":83.5,"v":205},{"d":83.8,"v":150},{"d":85,"v":145},{"d":86,"v":138},{"d":87,"v":135},{"d":88,"v":138},{"d":89,"v":138}],
"bah_s":[{"d":0,"v":62},{"d":1,"v":72},{"d":3,"v":68},{"d":5,"v":66},{"d":10,"v":69},{"d":15,"v":70},{"d":20,"v":71},{"d":25,"v":71},{"d":30,"v":70},{"d":35.2,"v":71},{"d":35.5,"v":100},{"d":35.8,"v":80},{"d":38,"v":80},{"d":41,"v":78},{"d":44,"v":75},{"d":47,"v":73},{"d":50,"v":75},{"d":53,"v":77},{"d":56,"v":78},{"d":59,"v":80},{"d":61,"v":82},{"d":63,"v":80},{"d":66,"v":78},{"d":69,"v":78},{"d":72,"v":78},{"d":75,"v":77},{"d":78,"v":76},{"d":80,"v":75},{"d":82,"v":77},{"d":83.3,"v":78},{"d":83.5,"v":90},{"d":83.8,"v":80},{"d":86,"v":80},{"d":89,"v":82}],
"bah_p":[{"d":59.1,"v":74},{"d":66.1,"v":55},{"d":80,"v":36},{"d":89.1,"v":49}],
"bah_x":[{"d":59.1,"v":145},{"d":66.1,"v":107},{"d":80,"v":67},{"d":89.1,"v":99}],
"meg":[{"d":30,"v":9.9},{"d":31,"v":9.8},{"d":32,"v":9.75},{"d":33,"v":9.7},{"d":34,"v":9.7},{"d":35,"v":9.8},{"d":35.5,"v":10.5},{"d":36,"v":10.6},{"d":37,"v":10.4},{"d":38,"v":10.5},{"d":39,"v":10.3},{"d":40,"v":10.4},{"d":41,"v":10.1},{"d":42,"v":10.3},{"d":43,"v":10.0},{"d":44,"v":10.4},{"d":45,"v":10.0},{"d":46,"v":10.5},{"d":47,"v":10.0},{"d":48,"v":10.5},{"d":49,"v":10.0},{"d":50,"v":10.5},{"d":51,"v":9.9},{"d":52,"v":10.3},{"d":53,"v":9.9},{"d":54,"v":10.2},{"d":55,"v":9.8},{"d":56,"v":10.2},{"d":57,"v":9.9},{"d":58,"v":10.3},{"d":59,"v":9.9},{"d":60,"v":10.2},{"d":61,"v":9.9},{"d":62,"v":9.7},{"d":63,"v":10.0},{"d":64,"v":9.8},{"d":65,"v":10.3},{"d":66,"v":9.9},{"d":67,"v":10.4},{"d":68,"v":10.0},{"d":69,"v":10.3},{"d":70,"v":9.8},{"d":71,"v":10.1},{"d":72,"v":9.8},{"d":73,"v":10.2},{"d":73.7,"v":11.1},{"d":74.5,"v":9.7},{"d":75,"v":9.6},{"d":77,"v":9.7},{"d":79,"v":9.8},{"d":80,"v":10.0},{"d":81,"v":10.2},{"d":82,"v":10.3},{"d":83,"v":10.6},{"d":84,"v":11.4},{"d":85,"v":11.0},{"d":86,"v":11.3},{"d":86.5,"v":10.8},{"d":87,"v":11.4},{"d":87.5,"v":10.8},{"d":88,"v":11.4},{"d":88.5,"v":10.9},{"d":89,"v":11.5}],
"meg_c":[{"d":30,"v":1.2},{"d":33,"v":1.25},{"d":34,"v":1.35},{"d":36,"v":1.35},{"d":40,"v":1.3},{"d":44,"v":1.2},{"d":48,"v":1.25},{"d":52,"v":1.2},{"d":56,"v":1.2},{"d":60,"v":1.2},{"d":64,"v":1.2},{"d":68,"v":1.2},{"d":72,"v":1.25},{"d":73.5,"v":1.45},{"d":74.5,"v":1.25},{"d":78,"v":1.25},{"d":82,"v":1.3},{"d":84,"v":1.35},{"d":86,"v":1.3},{"d":89,"v":1.3}],
"meg_p":[{"d":45.2,"v":10.8},{"d":54.2,"v":9.6},{"d":59,"v":10.0},{"d":66.1,"v":8.3},{"d":80,"v":12.0},{"d":88.9,"v":17.0}],
"meg_x":[{"d":54.2,"v":1.0},{"d":59,"v":1.0},{"d":65.4,"v":0.85},{"d":80,"v":1.0},{"d":88.9,"v":3.15}],
"mec":[{"d":30,"v":10.7},{"d":31,"v":10.7},{"d":32,"v":10.5},{"d":33,"v":10.6},{"d":34,"v":10.5},{"d":34.5,"v":10.8},{"d":34.9,"v":14.6},{"d":35.3,"v":11.8},{"d":36,"v":11.5},{"d":37,"v":11.7},{"d":38,"v":11.0},{"d":39,"v":10.1},{"d":40,"v":10.8},{"d":41,"v":10.6},{"d":42,"v":11.6},{"d":43,"v":11.0},{"d":43.3,"v":9.9},{"d":44,"v":10.4},{"d":45,"v":10.8},{"d":46,"v":10.5},{"d":47,"v":11.2},{"d":48,"v":10.9},{"d":49,"v":11.7},{"d":50,"v":11.0},{"d":51,"v":12.1},{"d":52,"v":11.2},{"d":53,"v":12.2},{"d":54,"v":11.3},{"d":55,"v":11.7},{"d":56,"v":11.1},{"d":57,"v":11.6},{"d":58,"v":10.9},{"d":59,"v":11.5},{"d":60,"v":10.9},{"d":61,"v":11.3},{"d":62,"v":10.8},{"d":63,"v":11.0},{"d":64,"v":10.6},{"d":65,"v":11.4},{"d":66,"v":10.9},{"d":67,"v":11.5},{"d":68,"v":11.1},{"d":69,"v":11.6},{"d":70,"v":11.3},{"d":71,"v":11.8},{"d":72,"v":11.2},{"d":73.2,"v":13.8},{"d":74,"v":10.3},{"d":75,"v":10.6},{"d":76,"v":10.4},{"d":77,"v":10.7},{"d":78,"v":10.5},{"d":79,"v":10.9},{"d":80,"v":11.0},{"d":81,"v":11.6},{"d":82,"v":12.0},{"d":82.7,"v":14.0},{"d":83,"v":12.5},{"d":84,"v":13.0},{"d":85,"v":12.2},{"d":86,"v":11.4},{"d":87,"v":13.1},{"d":88,"v":11.8},{"d":89,"v":12.8}],
"mec_c":[{"d":30,"v":1.5},{"d":33,"v":1.5},{"d":34.5,"v":1.5},{"d":34.9,"v":1.8},{"d":35.3,"v":1.45},{"d":37,"v":1.5},{"d":40,"v":1.5},{"d":43,"v":1.35},{"d":44,"v":1.4},{"d":47,"v":1.4},{"d":50,"v":1.45},{"d":55,"v":1.4},{"d":60,"v":1.4},{"d":65,"v":1.45},{"d":70,"v":1.4},{"d":72,"v":1.55},{"d":73,"v":1.95},{"d":73.5,"v":1.6},{"d":76,"v":1.5},{"d":79,"v":1.5},{"d":82,"v":1.55},{"d":82.5,"v":1.8},{"d":83,"v":1.6},{"d":86,"v":1.5},{"d":89,"v":1.5}],
"mec_p":[{"d":44.8,"v":13.05},{"d":59,"v":7.8},{"d":66,"v":16.9},{"d":80,"v":11.8},{"d":89,"v":14.2}],
"mec_x":[{"d":59,"v":0.9},{"d":66,"v":1.4},{"d":80,"v":1.7},{"d":89,"v":0.9}],
"meh":[{"d":30,"v":10.3},{"d":31,"v":10.3},{"d":32,"v":10.4},{"d":33,"v":10.2},{"d":34,"v":10.5},{"d":34.5,"v":10.5},{"d":34.8,"v":13.5},{"d":35.3,"v":11.2},{"d":36,"v":10.9},{"d":37,"v":11.0},{"d":38,"v":10.6},{"d":39,"v":10.2},{"d":39.6,"v":9.6},{"d":41,"v":10.0},{"d":42,"v":10.3},{"d":43,"v":10.9},{"d":43.6,"v":9.7},{"d":45,"v":10.2},{"d":46,"v":10.5},{"d":47,"v":10.8},{"d":48,"v":10.5},{"d":49,"v":11.0},{"d":50,"v":11.5},{"d":51,"v":11.3},{"d":52,"v":12.0},{"d":53,"v":11.5},{"d":54,"v":12.3},{"d":55,"v":11.6},{"d":56,"v":12.2},{"d":57,"v":11.5},{"d":58,"v":11.9},{"d":59,"v":11.3},{"d":60,"v":11.8},{"d":61,"v":11.1},{"d":62,"v":11.6},{"d":63,"v":11.0},{"d":64,"v":11.2},{"d":65,"v":10.8},{"d":66,"v":11.5},{"d":67,"v":11.2},{"d":68,"v":11.8},{"d":69,"v":11.4},{"d":70,"v":12.0},{"d":71,"v":11.5},{"d":72,"v":12.0},{"d":72.5,"v":11.5},{"d":73.7,"v":13.6},{"d":74.5,"v":9.9},{"d":75,"v":10.2},{"d":76,"v":10.1},{"d":77,"v":10.2},{"d":78,"v":10.0},{"d":79,"v":10.3},{"d":80,"v":10.6},{"d":81,"v":11.0},{"d":82,"v":11.1},{"d":83,"v":12.8},{"d":83.5,"v":12.1},{"d":84,"v":12.6},{"d":85,"v":11.8},{"d":86,"v":11.1},{"d":87,"v":11.7},{"d":88,"v":12.4},{"d":89,"v":12.1}],
"meh_c":[{"d":30,"v":1.4},{"d":34.5,"v":1.4},{"d":34.8,"v":1.95},{"d":35.3,"v":1.4},{"d":37,"v":1.4},{"d":40,"v":1.3},{"d":43,"v":1.3},{"d":45,"v":1.25},{"d":50,"v":1.3},{"d":55,"v":1.35},{"d":60,"v":1.35},{"d":65,"v":1.4},{"d":70,"v":1.45},{"d":72,"v":1.5},{"d":73.7,"v":1.9},{"d":74.5,"v":1.45},{"d":78,"v":1.4},{"d":82,"v":1.45},{"d":83,"v":1.6},{"d":84,"v":1.55},{"d":86,"v":1.45},{"d":88,"v":1.3},{"d":89,"v":1.35}],
"meh_p":[{"d":45.2,"v":6.85},{"d":54.1,"v":10.05},{"d":58.9,"v":8.35},{"d":66,"v":11.0},{"d":80.1,"v":8.45},{"d":89.2,"v":13.0}],
"meh_x":[{"d":54.1,"v":1.75},{"d":58.9,"v":1.4},{"d":66,"v":1.05},{"d":80.1,"v":5.85},{"d":89.2,"v":1.2}]
},
"concat":[
{"title":"O2, Suresnes","width":287,"height":200,"resolve":{"axis":{"x":"independent","y":"independent"}},"layer":[
 {"data":{"name":"o2s_g"},"mark":{"type":"line","color":"#00ff00"},"encoding":{"x":{"field":"d","type":"quantitative","scale":{"domain":[0,91],"nice":false},"axis":{"title":null,"values":[0,14,30,44,61,75,91],"labelExpr":"datum.value==0?'1/6':datum.value==14?'15/6':datum.value==30?'1/7':datum.value==44?'15/7':datum.value==61?'1/8':datum.value==75?'15/8':'31/8'"}},"y":{"field":"v","type":"quantitative","scale":{"domain":[0,10],"nice":false},"axis":{"title":"mgO2/l","values":[0,2,4,6,8,10]}}}},
 {"data":{"name":"o2s_r"},"mark":{"type":"line","color":"#ff0000"},"encoding":{"x":{"field":"d","type":"quantitative","axis":{"orient":"top","title":null,"labels":false,"values":[0,14,30,44,61,75,91]}},"y":{"field":"v","type":"quantitative","axis":{"orient":"right","title":null,"labels":false,"values":[0,2,4,6,8,10]}}}}]},
{"title":"O2, Colombes","width":287,"height":200,"resolve":{"axis":{"x":"independent","y":"independent"}},"layer":[
 {"data":{"name":"o2c_g"},"mark":{"type":"line","color":"#00ff00"},"encoding":{"x":{"field":"d","type":"quantitative","scale":{"domain":[0,91],"nice":false},"axis":{"title":null,"values":[0,14,30,44,61,75,91],"labelExpr":"datum.value==0?'1/6':datum.value==14?'15/6':datum.value==30?'1/7':datum.value==44?'15/7':datum.value==61?'1/8':datum.value==75?'15/8':'31/8'"}},"y":{"field":"v","type":"quantitative","scale":{"domain":[0,10],"nice":false},"axis":{"title":"mgO2/l","values":[0,2,4,6,8,10]}}}},
 {"data":{"name":"o2c_r"},"mark":{"type":"line","color":"#ff0000"},"encoding":{"x":{"field":"d","type":"quantitative","axis":{"orient":"top","title":null,"labels":false,"values":[0,14,30,44,61,75,91]}},"y":{"field":"v","type":"quantitative","axis":{"orient":"right","title":null,"labels":false,"values":[0,2,4,6,8,10]}}}}]},
{"title":"O2, Chatou","width":287,"height":200,"resolve":{"axis":{"x":"independent","y":"independent"}},"layer":[
 {"data":{"name":"o2h_g"},"mark":{"type":"line","color":"#00ff00"},"encoding":{"x":{"field":"d","type":"quantitative","scale":{"domain":[0,91],"nice":false},"axis":{"title":null,"values":[0,14,30,44,61,75,91],"labelExpr":"datum.value==0?'1/6':datum.value==14?'15/6':datum.value==30?'1/7':datum.value==44?'15/7':datum.value==61?'1/8':datum.value==75?'15/8':'31/8'"}},"y":{"field":"v","type":"quantitative","scale":{"domain":[0,10],"nice":false},"axis":{"title":"mgO2/l","values":[0,2,4,6,8,10]}}}},
 {"data":{"name":"o2h_r"},"mark":{"type":"line","color":"#ff0000"},"encoding":{"x":{"field":"d","type":"quantitative","axis":{"orient":"top","title":null,"labels":false,"values":[0,14,30,44,61,75,91]}},"y":{"field":"v","type":"quantitative","axis":{"orient":"right","title":null,"labels":false,"values":[0,2,4,6,8,10]}}}}]},
{"title":"Chla, Suresnes","width":287,"height":200,"resolve":{"axis":{"x":"independent","y":"independent"}},"layer":[
 {"data":{"name":"chs"},"mark":{"type":"line","color":"#ff0000"},"encoding":{"x":{"field":"d","type":"quantitative","scale":{"domain":[0,91],"nice":false},"axis":{"title":null,"values":[0,14,30,44,61,75,91],"labelExpr":"datum.value==0?'1/6':datum.value==14?'15/6':datum.value==30?'1/7':datum.value==44?'15/7':datum.value==61?'1/8':datum.value==75?'15/8':'31/8'"}},"y":{"field":"v","type":"quantitative","scale":{"domain":[0,80],"nice":false},"axis":{"title":"ugchla/l","values":[0,10,20,30,40,50,60,70,80]}}}},
 {"data":{"name":"chs_p"},"mark":{"type":"point","shape":"M-1,0H1M0,-1V1","filled":false,"color":"#ff0000","size":121,"strokeWidth":1,"opacity":1},"encoding":{"x":{"field":"d","type":"quantitative","axis":{"orient":"top","title":null,"labels":false,"values":[0,14,30,44,61,75,91]}},"y":{"field":"v","type":"quantitative","axis":{"orient":"right","title":null,"labels":false,"values":[0,10,20,30,40,50,60,70,80]}}}}]},
{"title":"Chla, Colombes","width":287,"height":200,"resolve":{"axis":{"x":"independent","y":"independent"}},"layer":[
 {"data":{"name":"chc"},"mark":{"type":"line","color":"#ff0000"},"encoding":{"x":{"field":"d","type":"quantitative","scale":{"domain":[0,91],"nice":false},"axis":{"title":null,"values":[0,14,30,44,61,75,91],"labelExpr":"datum.value==0?'1/6':datum.value==14?'15/6':datum.value==30?'1/7':datum.value==44?'15/7':datum.value==61?'1/8':datum.value==75?'15/8':'31/8'"}},"y":{"field":"v","type":"quantitative","scale":{"domain":[0,80],"nice":false},"axis":{"title":"ugchla/l","values":[0,10,20,30,40,50,60,70,80]}}}},
 {"data":{"name":"chc_p"},"mark":{"type":"point","shape":"M-1,0H1M0,-1V1","filled":false,"color":"#ff0000","size":121,"strokeWidth":1,"opacity":1},"encoding":{"x":{"field":"d","type":"quantitative","axis":{"orient":"top","title":null,"labels":false,"values":[0,14,30,44,61,75,91]}},"y":{"field":"v","type":"quantitative","axis":{"orient":"right","title":null,"labels":false,"values":[0,10,20,30,40,50,60,70,80]}}}}]},
{"title":"Chla, Chatou","width":287,"height":200,"resolve":{"axis":{"x":"independent","y":"independent"}},"layer":[
 {"data":{"name":"chh"},"mark":{"type":"line","color":"#ff0000"},"encoding":{"x":{"field":"d","type":"quantitative","scale":{"domain":[0,91],"nice":false},"axis":{"title":null,"values":[0,14,30,44,61,75,91],"labelExpr":"datum.value==0?'1/6':datum.value==14?'15/6':datum.value==30?'1/7':datum.value==44?'15/7':datum.value==61?'1/8':datum.value==75?'15/8':'31/8'"}},"y":{"field":"v","type":"quantitative","scale":{"domain":[0,80],"nice":false},"axis":{"title":"ugchla/l","values":[0,10,20,30,40,50,60,70,80]}}}},
 {"data":{"name":"chh_p"},"mark":{"type":"point","shape":"M-1,0H1M0,-1V1","filled":false,"color":"#ff0000","size":121,"strokeWidth":1,"opacity":1},"encoding":{"x":{"field":"d","type":"quantitative","axis":{"orient":"top","title":null,"labels":false,"values":[0,14,30,44,61,75,91]}},"y":{"field":"v","type":"quantitative","axis":{"orient":"right","title":null,"labels":false,"values":[0,10,20,30,40,50,60,70,80]}}}}]},
{"title":"NH4, Gennevilliers","width":287,"height":200,"resolve":{"axis":{"x":"independent","y":"independent"}},"layer":[
 {"data":{"name":"nhg"},"mark":{"type":"line","color":"#ff0000"},"encoding":{"x":{"field":"d","type":"quantitative","scale":{"domain":[0,91],"nice":false},"axis":{"title":null,"values":[0,14,30,44,61,75],"labelExpr":"datum.value==0?'1/6':datum.value==14?'15/6':datum.value==30?'1/7':datum.value==44?'15/7':datum.value==61?'1/8':datum.value==75?'15/8':'31/8'"}},"y":{"field":"v","type":"quantitative","scale":{"domain":[0,2.5],"nice":false},"axis":{"title":"mgN/l","values":[0,0.5,1,1.5,2,2.5],"format":"~g"}}}},
 {"data":{"name":"nhg_p"},"mark":{"type":"point","shape":"M-1,0H1M0,-1V1","filled":false,"color":"#ff0000","size":121,"strokeWidth":1,"opacity":1},"encoding":{"x":{"field":"d","type":"quantitative","axis":{"orient":"top","title":null,"labels":false,"values":[0,14,30,44,61,75]}},"y":{"field":"v","type":"quantitative","axis":{"orient":"right","title":null,"labels":false,"values":[0,0.5,1,1.5,2,2.5]}}}}]},
{"title":"NH4, Colombes","width":287,"height":200,"resolve":{"axis":{"x":"independent","y":"independent"}},"layer":[
 {"data":{"name":"nhc"},"mark":{"type":"line","color":"#ff0000"},"encoding":{"x":{"field":"d","type":"quantitative","scale":{"domain":[0,91],"nice":false},"axis":{"title":null,"values":[0,14,30,44,61,75],"labelExpr":"datum.value==0?'1/6':datum.value==14?'15/6':datum.value==30?'1/7':datum.value==44?'15/7':datum.value==61?'1/8':datum.value==75?'15/8':'31/8'"}},"y":{"field":"v","type":"quantitative","scale":{"domain":[0,2.5],"nice":false},"axis":{"title":"mgN/l","values":[0,0.5,1,1.5,2,2.5],"format":"~g"}}}},
 {"data":{"name":"nhc_p"},"mark":{"type":"point","shape":"M-1,0H1M0,-1V1","filled":false,"color":"#ff0000","size":121,"strokeWidth":1,"opacity":1},"encoding":{"x":{"field":"d","type":"quantitative","axis":{"orient":"top","title":null,"labels":false,"values":[0,14,30,44,61,75]}},"y":{"field":"v","type":"quantitative","axis":{"orient":"right","title":null,"labels":false,"values":[0,0.5,1,1.5,2,2.5]}}}}]},
{"title":"NH4, Chatou","width":287,"height":200,"resolve":{"axis":{"x":"independent","y":"independent"}},"layer":[
 {"data":{"name":"nhh"},"mark":{"type":"line","color":"#ff0000"},"encoding":{"x":{"field":"d","type":"quantitative","scale":{"domain":[0,91],"nice":false},"axis":{"title":null,"values":[0,14,30,44,61,75],"labelExpr":"datum.value==0?'1/6':datum.value==14?'15/6':datum.value==30?'1/7':datum.value==44?'15/7':datum.value==61?'1/8':datum.value==75?'15/8':'31/8'"}},"y":{"field":"v","type":"quantitative","scale":{"domain":[0,2.5],"nice":false},"axis":{"title":"mgN/l","values":[0,0.5,1,1.5,2,2.5],"format":"~g"}}}},
 {"data":{"name":"nhh_p"},"mark":{"type":"point","shape":"M-1,0H1M0,-1V1","filled":false,"color":"#ff0000","size":121,"strokeWidth":1,"opacity":1},"encoding":{"x":{"field":"d","type":"quantitative","axis":{"orient":"top","title":null,"labels":false,"values":[0,14,30,44,61,75]}},"y":{"field":"v","type":"quantitative","axis":{"orient":"right","title":null,"labels":false,"values":[0,0.5,1,1.5,2,2.5]}}}}]},
{"title":"COD, Gennevilliers","width":287,"height":200,"resolve":{"axis":{"x":"independent","y":"independent"}},"layer":[
 {"data":{"name":"cdg"},"mark":{"type":"line"},"encoding":{"x":{"field":"d","type":"quantitative","scale":{"domain":[30,91],"nice":false},"axis":{"title":null,"values":[30,44,61,75],"labelExpr":"datum.value==0?'1/6':datum.value==14?'15/6':datum.value==30?'1/7':datum.value==44?'15/7':datum.value==61?'1/8':datum.value==75?'15/8':'31/8'"}},"y":{"field":"v","type":"quantitative","scale":{"domain":[0,20],"nice":false},"axis":{"title":"mgC/l","values":[0,5,10,15,20]}},"color":{"datum":"COD","type":"nominal","scale":{"domain":["COD","CODB"],"range":["#ff0000","#ff00ff"]},"legend":{"title":null,"labelColor":{"expr":"datum.value=='COD'||datum.value=='COP'||datum.value=='Bact. tot'?'#ff0000':'#ff00ff'"}}}}},
 {"data":{"name":"cdg_b"},"mark":{"type":"line"},"encoding":{"x":{"field":"d","type":"quantitative","axis":{"orient":"top","title":null,"labels":false,"values":[30,44,61,75]}},"y":{"field":"v","type":"quantitative","axis":{"orient":"right","title":null,"labels":false,"values":[0,5,10,15,20]}},"color":{"datum":"CODB","type":"nominal"}}},
 {"data":{"name":"cdg_p"},"mark":{"type":"point","shape":"M-1,0H1M0,-1V1","filled":false,"color":"#ff0000","size":121,"strokeWidth":1,"opacity":1},"encoding":{"x":{"field":"d","type":"quantitative","axis":null},"y":{"field":"v","type":"quantitative","axis":null}}}]},
{"title":"COD, Colombes","width":287,"height":200,"resolve":{"axis":{"x":"independent","y":"independent"}},"layer":[
 {"data":{"name":"cdc"},"mark":{"type":"line"},"encoding":{"x":{"field":"d","type":"quantitative","scale":{"domain":[30,91],"nice":false},"axis":{"title":null,"values":[30,44,61,75],"labelExpr":"datum.value==0?'1/6':datum.value==14?'15/6':datum.value==30?'1/7':datum.value==44?'15/7':datum.value==61?'1/8':datum.value==75?'15/8':'31/8'"}},"y":{"field":"v","type":"quantitative","scale":{"domain":[0,20],"nice":false},"axis":{"title":"mgC/l","values":[0,5,10,15,20]}},"color":{"datum":"COD","type":"nominal","scale":{"domain":["COD","CODB"],"range":["#ff0000","#ff00ff"]},"legend":{"title":null,"labelColor":{"expr":"datum.value=='COD'||datum.value=='COP'||datum.value=='Bact. tot'?'#ff0000':'#ff00ff'"}}}}},
 {"data":{"name":"cdc_b"},"mark":{"type":"line"},"encoding":{"x":{"field":"d","type":"quantitative","axis":{"orient":"top","title":null,"labels":false,"values":[30,44,61,75]}},"y":{"field":"v","type":"quantitative","axis":{"orient":"right","title":null,"labels":false,"values":[0,5,10,15,20]}},"color":{"datum":"CODB","type":"nominal"}}},
 {"data":{"name":"cdc_p"},"mark":{"type":"point","shape":"M-1,0H1M0,-1V1","filled":false,"color":"#ff0000","size":121,"strokeWidth":1,"opacity":1},"encoding":{"x":{"field":"d","type":"quantitative","axis":null},"y":{"field":"v","type":"quantitative","axis":null}}}]},
{"title":"COD, Chatou","width":287,"height":200,"resolve":{"axis":{"x":"independent","y":"independent"}},"layer":[
 {"data":{"name":"cdh"},"mark":{"type":"line"},"encoding":{"x":{"field":"d","type":"quantitative","scale":{"domain":[30,91],"nice":false},"axis":{"title":null,"values":[30,44,61,75],"labelExpr":"datum.value==0?'1/6':datum.value==14?'15/6':datum.value==30?'1/7':datum.value==44?'15/7':datum.value==61?'1/8':datum.value==75?'15/8':'31/8'"}},"y":{"field":"v","type":"quantitative","scale":{"domain":[0,20],"nice":false},"axis":{"title":"mgC/l","values":[0,5,10,15,20]}},"color":{"datum":"COD","type":"nominal","scale":{"domain":["COD","CODB"],"range":["#ff0000","#ff00ff"]},"legend":{"title":null,"labelColor":{"expr":"datum.value=='COD'||datum.value=='COP'||datum.value=='Bact. tot'?'#ff0000':'#ff00ff'"}}}}},
 {"data":{"name":"cdh_b"},"mark":{"type":"line"},"encoding":{"x":{"field":"d","type":"quantitative","axis":{"orient":"top","title":null,"labels":false,"values":[30,44,61,75]}},"y":{"field":"v","type":"quantitative","axis":{"orient":"right","title":null,"labels":false,"values":[0,5,10,15,20]}},"color":{"datum":"CODB","type":"nominal"}}},
 {"data":{"name":"cdh_p"},"mark":{"type":"point","shape":"M-1,0H1M0,-1V1","filled":false,"color":"#ff0000","size":121,"strokeWidth":1,"opacity":1},"encoding":{"x":{"field":"d","type":"quantitative","axis":null},"y":{"field":"v","type":"quantitative","axis":null}}}]},
{"title":"Bact, Gennevilliers","width":287,"height":200,"resolve":{"axis":{"x":"independent","y":"independent"}},"layer":[
 {"data":{"name":"bag"},"mark":{"type":"line"},"encoding":{"x":{"field":"d","type":"quantitative","scale":{"domain":[0,91],"nice":false},"axis":{"title":null,"values":[0,14,30,44,61,75],"labelExpr":"datum.value==0?'1/6':datum.value==14?'15/6':datum.value==30?'1/7':datum.value==44?'15/7':datum.value==61?'1/8':datum.value==75?'15/8':'31/8'"}},"y":{"field":"v","type":"quantitative","scale":{"domain":[0,500],"nice":false},"axis":{"title":"ugC/l","values":[0,50,100,150,200,250,300,350,400,450,500]}},"color":{"datum":"Bact. tot","type":"nominal","scale":{"domain":["Bact. tot","Bact. < 1 um"],"range":["#ff0000","#ff00ff"]},"legend":{"title":null,"labelColor":{"expr":"datum.value=='COD'||datum.value=='COP'||datum.value=='Bact. tot'?'#ff0000':'#ff00ff'"}}}}},
 {"data":{"name":"bag_s"},"mark":{"type":"line"},"encoding":{"x":{"field":"d","type":"quantitative","axis":{"orient":"top","title":null,"labels":false,"values":[0,14,30,44,61,75]}},"y":{"field":"v","type":"quantitative","axis":{"orient":"right","title":null,"labels":false,"values":[0,50,100,150,200,250,300,350,400,450,500]}},"color":{"datum":"Bact. < 1 um","type":"nominal"}}},
 {"data":{"name":"bag_p"},"mark":{"type":"point","shape":"M-1,0H1M0,-1V1","filled":false,"color":"#ff0000","size":121,"strokeWidth":1,"opacity":1},"encoding":{"x":{"field":"d","type":"quantitative","axis":null},"y":{"field":"v","type":"quantitative","axis":null}}},
 {"data":{"name":"bag_x"},"mark":{"type":"point","shape":"M-1,-1L1,1M-1,1L1,-1","filled":false,"color":"#00ff00","size":169,"strokeWidth":1,"opacity":1},"encoding":{"x":{"field":"d","type":"quantitative","axis":null},"y":{"field":"v","type":"quantitative","axis":null}}}]},
{"title":"Bact., Colombes","width":287,"height":200,"resolve":{"axis":{"x":"independent","y":"independent"}},"layer":[
 {"data":{"name":"bac"},"mark":{"type":"line"},"encoding":{"x":{"field":"d","type":"quantitative","scale":{"domain":[0,91],"nice":false},"axis":{"title":null,"values":[0,14,30,44,61,75],"labelExpr":"datum.value==0?'1/6':datum.value==14?'15/6':datum.value==30?'1/7':datum.value==44?'15/7':datum.value==61?'1/8':datum.value==75?'15/8':'31/8'"}},"y":{"field":"v","type":"quantitative","scale":{"domain":[0,500],"nice":false},"axis":{"title":"ugC/l","values":[0,50,100,150,200,250,300,350,400,450,500]}},"color":{"datum":"Bact. tot","type":"nominal","scale":{"domain":["Bact. tot","Bact. < 1"],"range":["#ff0000","#ff00ff"]},"legend":{"title":null,"labelColor":{"expr":"datum.value=='COD'||datum.value=='COP'||datum.value=='Bact. tot'?'#ff0000':'#ff00ff'"}}}}},
 {"data":{"name":"bac_s"},"mark":{"type":"line"},"encoding":{"x":{"field":"d","type":"quantitative","axis":{"orient":"top","title":null,"labels":false,"values":[0,14,30,44,61,75]}},"y":{"field":"v","type":"quantitative","axis":{"orient":"right","title":null,"labels":false,"values":[0,50,100,150,200,250,300,350,400,450,500]}},"color":{"datum":"Bact. < 1","type":"nominal"}}},
 {"data":{"name":"bac_p"},"mark":{"type":"point","shape":"M-1,0H1M0,-1V1","filled":false,"color":"#ff0000","size":121,"strokeWidth":1,"opacity":1},"encoding":{"x":{"field":"d","type":"quantitative","axis":null},"y":{"field":"v","type":"quantitative","axis":null}}},
 {"data":{"name":"bac_x"},"mark":{"type":"point","shape":"M-1,-1L1,1M-1,1L1,-1","filled":false,"color":"#00ff00","size":169,"strokeWidth":1,"opacity":1},"encoding":{"x":{"field":"d","type":"quantitative","axis":null},"y":{"field":"v","type":"quantitative","axis":null}}}]},
{"title":"Bact., Chatou","width":287,"height":200,"resolve":{"axis":{"x":"independent","y":"independent"}},"layer":[
 {"data":{"name":"bah"},"mark":{"type":"line"},"encoding":{"x":{"field":"d","type":"quantitative","scale":{"domain":[0,91],"nice":false},"axis":{"title":null,"values":[0,14,30,44,61,75],"labelExpr":"datum.value==0?'1/6':datum.value==14?'15/6':datum.value==30?'1/7':datum.value==44?'15/7':datum.value==61?'1/8':datum.value==75?'15/8':'31/8'"}},"y":{"field":"v","type":"quantitative","scale":{"domain":[0,500],"nice":false},"axis":{"title":"ugC/l","values":[0,50,100,150,200,250,300,350,400,450,500]}},"color":{"datum":"Bact. tot","type":"nominal","scale":{"domain":["Bact. tot","Bact. < 1"],"range":["#ff0000","#ff00ff"]},"legend":{"title":null,"labelColor":{"expr":"datum.value=='COD'||datum.value=='COP'||datum.value=='Bact. tot'?'#ff0000':'#ff00ff'"}}}}},
 {"data":{"name":"bah_s"},"mark":{"type":"line"},"encoding":{"x":{"field":"d","type":"quantitative","axis":{"orient":"top","title":null,"labels":false,"values":[0,14,30,44,61,75]}},"y":{"field":"v","type":"quantitative","axis":{"orient":"right","title":null,"labels":false,"values":[0,50,100,150,200,250,300,350,400,450,500]}},"color":{"datum":"Bact. < 1","type":"nominal"}}},
 {"data":{"name":"bah_p"},"mark":{"type":"point","shape":"M-1,0H1M0,-1V1","filled":false,"color":"#ff0000","size":121,"strokeWidth":1,"opacity":1},"encoding":{"x":{"field":"d","type":"quantitative","axis":null},"y":{"field":"v","type":"quantitative","axis":null}}},
 {"data":{"name":"bah_x"},"mark":{"type":"point","shape":"M-1,-1L1,1M-1,1L1,-1","filled":false,"color":"#00ff00","size":169,"strokeWidth":1,"opacity":1},"encoding":{"x":{"field":"d","type":"quantitative","axis":null},"y":{"field":"v","type":"quantitative","axis":null}}}]},
{"title":"MES, Gennevilliers","width":287,"height":200,"resolve":{"axis":{"x":"independent","y":"independent"}},"layer":[
 {"data":{"name":"meg"},"mark":{"type":"line"},"encoding":{"x":{"field":"d","type":"quantitative","scale":{"domain":[30,91],"nice":false},"axis":{"title":null,"values":[30,44,61,75],"labelExpr":"datum.value==0?'1/6':datum.value==14?'15/6':datum.value==30?'1/7':datum.value==44?'15/7':datum.value==61?'1/8':datum.value==75?'15/8':'31/8'"}},"y":{"field":"v","type":"quantitative","scale":{"domain":[0,20],"nice":false},"axis":{"title":"mg/l","values":[0,5,10,15,20]}},"color":{"datum":"MES","type":"nominal","scale":{"domain":["MES","COP"],"range":["#ff00ff","#ff0000"]},"legend":{"title":null,"labelColor":{"expr":"datum.value=='COD'||datum.value=='COP'||datum.value=='Bact. tot'?'#ff0000':'#ff00ff'"}}}}},
 {"data":{"name":"meg_c"},"mark":{"type":"line"},"encoding":{"x":{"field":"d","type":"quantitative","axis":{"orient":"top","title":null,"labels":false,"values":[30,44,61,75]}},"y":{"field":"v","type":"quantitative","axis":{"orient":"right","title":null,"labels":false,"values":[0,5,10,15,20]}},"color":{"datum":"COP","type":"nominal"}}},
 {"data":{"name":"meg_p"},"mark":{"type":"point","shape":"M-1,0H1M0,-1V1","filled":false,"color":"#ff0000","size":121,"strokeWidth":1,"opacity":1},"encoding":{"x":{"field":"d","type":"quantitative","axis":null},"y":{"field":"v","type":"quantitative","axis":null}}},
 {"data":{"name":"meg_x"},"mark":{"type":"point","shape":"M-1,-1L1,1M-1,1L1,-1","filled":false,"color":"#00ff00","size":169,"strokeWidth":1,"opacity":1},"encoding":{"x":{"field":"d","type":"quantitative","axis":null},"y":{"field":"v","type":"quantitative","axis":null}}}]},
{"title":"MES, Colombes","width":287,"height":200,"resolve":{"axis":{"x":"independent","y":"independent"}},"layer":[
 {"data":{"name":"mec"},"mark":{"type":"line"},"encoding":{"x":{"field":"d","type":"quantitative","scale":{"domain":[30,91],"nice":false},"axis":{"title":null,"values":[30,44,61,75],"labelExpr":"datum.value==0?'1/6':datum.value==14?'15/6':datum.value==30?'1/7':datum.value==44?'15/7':datum.value==61?'1/8':datum.value==75?'15/8':'31/8'"}},"y":{"field":"v","type":"quantitative","scale":{"domain":[0,20],"nice":false},"axis":{"title":"mg/l","values":[0,5,10,15,20]}},"color":{"datum":"MES","type":"nominal","scale":{"domain":["MES","COP"],"range":["#ff00ff","#ff0000"]},"legend":{"title":null,"labelColor":{"expr":"datum.value=='COD'||datum.value=='COP'||datum.value=='Bact. tot'?'#ff0000':'#ff00ff'"}}}}},
 {"data":{"name":"mec_c"},"mark":{"type":"line"},"encoding":{"x":{"field":"d","type":"quantitative","axis":{"orient":"top","title":null,"labels":false,"values":[30,44,61,75]}},"y":{"field":"v","type":"quantitative","axis":{"orient":"right","title":null,"labels":false,"values":[0,5,10,15,20]}},"color":{"datum":"COP","type":"nominal"}}},
 {"data":{"name":"mec_p"},"mark":{"type":"point","shape":"M-1,0H1M0,-1V1","filled":false,"color":"#ff0000","size":121,"strokeWidth":1,"opacity":1},"encoding":{"x":{"field":"d","type":"quantitative","axis":null},"y":{"field":"v","type":"quantitative","axis":null}}},
 {"data":{"name":"mec_x"},"mark":{"type":"point","shape":"M-1,-1L1,1M-1,1L1,-1","filled":false,"color":"#00ff00","size":169,"strokeWidth":1,"opacity":1},"encoding":{"x":{"field":"d","type":"quantitative","axis":null},"y":{"field":"v","type":"quantitative","axis":null}}}]},
{"title":"MES, Chatou","width":287,"height":200,"resolve":{"axis":{"x":"independent","y":"independent"}},"layer":[
 {"data":{"name":"meh"},"mark":{"type":"line"},"encoding":{"x":{"field":"d","type":"quantitative","scale":{"domain":[30,91],"nice":false},"axis":{"title":null,"values":[30,44,61,75],"labelExpr":"datum.value==0?'1/6':datum.value==14?'15/6':datum.value==30?'1/7':datum.value==44?'15/7':datum.value==61?'1/8':datum.value==75?'15/8':'31/8'"}},"y":{"field":"v","type":"quantitative","scale":{"domain":[0,20],"nice":false},"axis":{"title":"mg/l","values":[0,5,10,15,20]}},"color":{"datum":"MES","type":"nominal","scale":{"domain":["MES","COP"],"range":["#ff00ff","#ff0000"]},"legend":{"title":null,"labelColor":{"expr":"datum.value=='COD'||datum.value=='COP'||datum.value=='Bact. tot'?'#ff0000':'#ff00ff'"}}}}},
 {"data":{"name":"meh_c"},"mark":{"type":"line"},"encoding":{"x":{"field":"d","type":"quantitative","axis":{"orient":"top","title":null,"labels":false,"values":[30,44,61,75]}},"y":{"field":"v","type":"quantitative","axis":{"orient":"right","title":null,"labels":false,"values":[0,5,10,15,20]}},"color":{"datum":"COP","type":"nominal"}}},
 {"data":{"name":"meh_p"},"mark":{"type":"point","shape":"M-1,0H1M0,-1V1","filled":false,"color":"#ff0000","size":121,"strokeWidth":1,"opacity":1},"encoding":{"x":{"field":"d","type":"quantitative","axis":null},"y":{"field":"v","type":"quantitative","axis":null}}},
 {"data":{"name":"meh_x"},"mark":{"type":"point","shape":"M-1,-1L1,1M-1,1L1,-1","filled":false,"color":"#00ff00","size":169,"strokeWidth":1,"opacity":1},"encoding":{"x":{"field":"d","type":"quantitative","axis":null},"y":{"field":"v","type":"quantitative","axis":null}}}]}
]
}
